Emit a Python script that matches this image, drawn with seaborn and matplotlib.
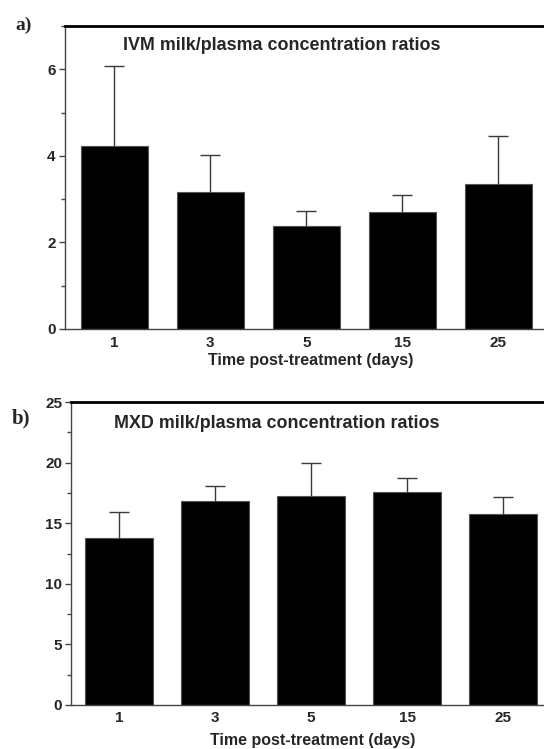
import numpy as np
import pandas as pd
import matplotlib

matplotlib.use("Agg")
import matplotlib.pyplot as plt
import seaborn as sns
from matplotlib.ticker import MultipleLocator

# Milk/plasma concentration ratios (mean + SD)
days = ["1", "3", "5", "15", "25"]
ivm_mean = [4.23, 3.17, 2.37, 2.71, 3.36]
ivm_sd = [1.84, 0.86, 0.36, 0.39, 1.10]
mxd_mean = [13.76, 16.86, 17.25, 17.55, 15.79]
mxd_sd = [2.17, 1.21, 2.75, 1.21, 1.35]

sns.set_style("ticks")
plt.rcParams["font.family"] = ["Liberation Sans", "DejaVu Sans"]

W, H = 544, 749
fig = plt.figure(figsize=(W / 100, H / 100), dpi=100)


def px_axes(left, right, top, bottom):
    return fig.add_axes([left / W, 1 - bottom / H, (right - left) / W, (bottom - top) / H])


def draw_panel(ax, means, sds, ymax, major, minor, xlim, title, title_px, xlab_px, xpad):
    df = pd.DataFrame({"day": days, "ratio": means})
    sns.barplot(
        data=df, x="day", y="ratio", color="black", saturation=1,
        width=0.70, errorbar=None, ax=ax, edgecolor="#555555", linewidth=0.8,
    )
    # only the upper half of the SD bar is visible above each column
    _, caps, _ = ax.errorbar(
        np.arange(len(days)), means, yerr=[np.zeros(len(sds)), sds],
        fmt="none", ecolor="#3a3a3a", elinewidth=1.0, capsize=7, capthick=1.0,
    )
    caps[0].remove()

    ax.set_ylim(0, ymax)
    ax.set_xlim(*xlim)
    ax.yaxis.set_major_locator(MultipleLocator(major))
    ax.yaxis.set_minor_locator(MultipleLocator(minor))

    for side in ["left", "bottom"]:
        ax.spines[side].set_color("#444444")
        ax.spines[side].set_linewidth(1.0)
    ax.spines["top"].set_visible(True)
    ax.spines["top"].set_color("black")
    ax.spines["top"].set_linewidth(2.0)
    ax.spines["right"].set_visible(False)

    ax.tick_params(axis="x", length=0, pad=xpad, labelsize=11)
    ax.tick_params(axis="y", which="major", length=6 * 0.72, width=1, color="#444444",
                   pad=2.0, labelsize=11)
    ax.tick_params(axis="y", which="minor", length=4 * 0.72, width=1, color="#444444")
    for lab in ax.get_xticklabels() + ax.get_yticklabels():
        lab.set_fontweight("bold")

    ax.set_ylabel("")
    ax.set_xlabel("")
    fig.text(xlab_px[0] / W, 1 - xlab_px[1] / H, "Time post-treatment (days)",
             ha="center", va="center", fontsize=11.5, fontweight="bold")
    fig.text(title_px[0] / W, 1 - title_px[1] / H, title,
             ha="left", va="center", fontsize=12.9, fontweight="bold")


ax_a = px_axes(64.5, 548, 26, 329)
draw_panel(ax_a, ivm_mean, ivm_sd, 7, 2, 1, (-0.52, 4.52),
           "IVM milk/plasma concentration ratios", (123, 45), (311, 361), 5.0)

ax_b = px_axes(71, 551, 402, 705)
draw_panel(ax_b, mxd_mean, mxd_sd, 25, 5, 2.5, (-0.5, 4.5),
           "MXD milk/plasma concentration ratios", (113.5, 423), (313, 740), 4.0)

fig.text(24 / W, 1 - 25 / H, "a)", ha="center", va="center",
         fontsize=14, fontweight="bold", family="Liberation Serif")
fig.text(21 / W, 1 - 418 / H, "b)", ha="center", va="center",
         fontsize=15, fontweight="bold", family="Liberation Serif")

fig.savefig("out.png", dpi=100)
plt.close(fig)
